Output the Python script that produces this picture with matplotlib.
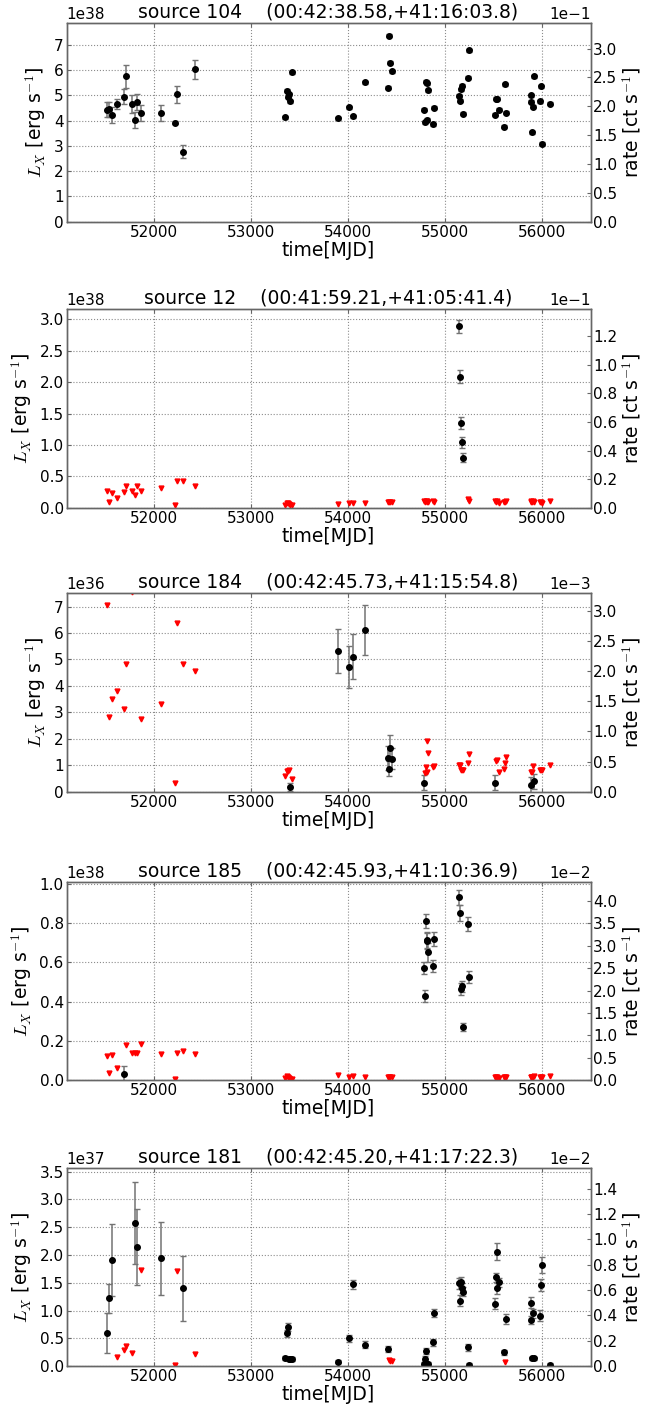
import matplotlib
matplotlib.use("Agg")
import matplotlib.pyplot as plt
from matplotlib.ticker import MaxNLocator

plt.rcParams["font.family"] = "DejaVu Sans"
plt.rcParams["mathtext.fontset"] = "cm"
plt.rcParams["xtick.direction"] = "in"
plt.rcParams["ytick.direction"] = "in"

# count rate -> luminosity conversion [erg per count]
ECF = 2.28e39

# source 104, luminosity in 1e38 erg/s
s104_t = [51516, 51533, 51568, 51616, 51695, 51717, 51778, 51804, 51830, 51869,
          52074, 52214, 52236, 52297, 52427, 53348, 53369, 53378, 53396, 53404,
          53422, 53893, 54010, 54054, 54172, 54412, 54425, 54438, 54451, 54787,
          54791, 54809, 54813, 54820, 54824, 54878, 54887, 55140, 55153, 55167,
          55179, 55184, 55241, 55249, 55515, 55528, 55541, 55554, 55607, 55620,
          55629, 55886, 55890, 55895, 55912, 55917, 55978, 55987, 56000, 56087]
s104_lx = [4.42, 4.44, 4.22, 4.64, 4.94, 5.75, 4.64, 4.02, 4.73, 4.30,
           4.30, 3.92, 5.03, 2.77, 6.02, 4.12, 5.18, 4.93, 5.03, 4.77,
           5.90, 4.09, 4.53, 4.17, 5.52, 5.29, 7.35, 6.29, 5.95, 4.43,
           3.94, 5.53, 4.02, 5.47, 5.20, 3.85, 4.50, 4.97, 4.78, 5.23,
           5.37, 4.27, 5.69, 6.78, 4.22, 4.86, 4.86, 4.42, 3.76, 5.43,
           4.31, 4.99, 4.74, 3.54, 4.55, 5.75, 4.76, 5.35, 3.08, 4.67]
s104_err = [0.30, 0.30, 0.30, 0.20, 0.30, 0.45, 0.35, 0.30, 0.30, 0.30,
            0.30, 0.05, 0.35, 0.25, 0.38] + [0.06] * 45
s104_ul_t = []
s104_ul_lx = []

# source 12, 1e38 erg/s
s12_t = [55140, 55153, 55167, 55179, 55184]
s12_lx = [2.89, 2.09, 1.35, 1.04, 0.80]
s12_err = [0.10, 0.10, 0.09, 0.09, 0.07]
s12_ul_t = [51516, 51533, 51568, 51616, 51695, 51717, 51778, 51804, 51830, 51869,
            52074, 52214, 52236, 52297, 52427, 53348, 53369, 53378, 53396, 53404,
            53422, 53893, 54010, 54054, 54172, 54412, 54425, 54438, 54451, 54787,
            54791, 54809, 54813, 54820, 54824, 54878, 54887, 55241, 55249, 55515,
            55528, 55541, 55554, 55607, 55620, 55629, 55886, 55890, 55895, 55912,
            55917, 55978, 55987, 56000, 56087]
s12_ul_lx = [0.27, 0.09, 0.24, 0.16, 0.25, 0.34, 0.27, 0.21, 0.35, 0.27,
             0.31, 0.04, 0.43, 0.43, 0.35, 0.05, 0.08, 0.07, 0.06, 0.05,
             0.04, 0.06, 0.07, 0.08, 0.07, 0.09, 0.10, 0.09, 0.09, 0.11,
             0.10, 0.11, 0.09, 0.11, 0.10, 0.11, 0.10, 0.14, 0.11, 0.11,
             0.10, 0.11, 0.08, 0.09, 0.10, 0.11, 0.11, 0.09, 0.10, 0.11,
             0.09, 0.09, 0.10, 0.08, 0.11]

# source 184, 1e36 erg/s
s184_t = [53404, 53893, 54010, 54054, 54172, 54412, 54425, 54438, 54451, 54787,
          55515, 55890, 55917]
s184_lx = [0.17, 5.33, 4.71, 5.10, 6.11, 1.28, 0.88, 1.66, 1.25, 0.35,
           0.35, 0.25, 0.39]
s184_err = [0.15, 0.84, 0.80, 0.85, 0.93, 0.45, 0.30, 0.50, 0.40, 0.30,
            0.30, 0.30, 0.30]
s184_ul_t = [51516, 51533, 51568, 51616, 51695, 51717, 51778, 51804, 51830, 51869,
             52074, 52214, 52236, 52297, 52427, 53348, 53369, 53378, 53396, 53422,
             54791, 54809, 54813, 54820, 54824, 54878, 54887, 55140, 55153, 55167,
             55179, 55184, 55241, 55249, 55528, 55541, 55554, 55607, 55620, 55629,
             55886, 55895, 55912, 55978, 55987, 56000, 56087]
s184_ul_lx = [7.05, 2.84, 3.52, 3.80, 3.11, 4.83, 7.56, 8.40, 8.90, 2.74,
              3.33, 0.32, 6.36, 4.81, 4.56, 0.61, 0.80, 0.78, 0.82, 0.49,
              0.72, 0.93, 0.75, 1.92, 1.47, 0.93, 0.98, 1.01, 1.01, 0.81,
              0.81, 0.81, 1.10, 1.44, 1.16, 1.20, 0.75, 0.86, 1.07, 1.33,
              0.75, 0.75, 0.97, 0.81, 0.81, 0.81, 1.00]

# source 185, 1e38 erg/s
s185_t = [51695, 54787, 54791, 54809, 54813, 54820, 54824, 54878, 54887, 55140,
          55153, 55167, 55179, 55184, 55241, 55249]
s185_lx = [0.034, 0.57, 0.43, 0.81, 0.71, 0.715, 0.65, 0.58, 0.72, 0.93,
           0.85, 0.465, 0.477, 0.27, 0.795, 0.525]
s185_err = [0.04, 0.03, 0.03, 0.035, 0.04, 0.04, 0.05, 0.03, 0.035, 0.04,
            0.04, 0.03, 0.03, 0.02, 0.035, 0.03]
s185_ul_t = [51516, 51533, 51568, 51616, 51717, 51778, 51804, 51830, 51869, 52074,
             52214, 52236, 52297, 52427, 53348, 53369, 53378, 53396, 53404, 53422,
             53893, 54010, 54054, 54172, 54412, 54425, 54438, 54451, 55515, 55528,
             55541, 55554, 55607, 55620, 55629, 55886, 55890, 55895, 55912, 55917,
             55978, 55987, 56000, 56087]
s185_ul_lx = [0.124, 0.037, 0.130, 0.063, 0.180, 0.136, 0.136, 0.136, 0.184, 0.135,
              0.007, 0.136, 0.147, 0.133, 0.009, 0.022, 0.014, 0.009, 0.006, 0.006,
              0.024, 0.015, 0.022, 0.015, 0.015, 0.015, 0.015, 0.015, 0.014, 0.014,
              0.014, 0.012, 0.014, 0.014, 0.016, 0.016, 0.017, 0.018, 0.017, 0.019,
              0.018, 0.018, 0.017, 0.022]

# source 181, 1e37 erg/s
s181_t = [51516, 51533, 51568, 51804, 51830, 52074, 52297, 53348, 53369, 53378,
          53396, 53404, 53422, 53893, 54010, 54054, 54172, 54412, 54787, 54791,
          54809, 54813, 54820, 54824, 54878, 54887, 55140, 55153, 55167, 55179,
          55184, 55241, 55249, 55515, 55528, 55536, 55541, 55554, 55607, 55629,
          55886, 55890, 55895, 55912, 55917, 55978, 55987, 56000, 56087]
s181_lx = [0.60, 1.22, 1.91, 2.58, 2.14, 1.94, 1.40, 0.15, 0.59, 0.71,
           0.13, 0.13, 0.13, 0.08, 0.50, 1.47, 0.39, 0.31, 0.04, 0.13,
           0.27, 0.04, 0.03, 0.04, 0.43, 0.96, 1.49, 1.18, 1.52, 1.41,
           1.34, 0.34, 0.03, 1.12, 1.60, 2.06, 1.40, 1.51, 0.25, 0.84,
           0.83, 1.14, 0.14, 0.95, 0.14, 0.91, 1.46, 1.82, 0.03]
s181_err = [0.36, 0.26, 0.65, 0.74, 0.68, 0.66, 0.58, 0.03, 0.07, 0.07,
            0.03, 0.03, 0.03, 0.03, 0.06, 0.08, 0.06, 0.06, 0.03, 0.06,
            0.05, 0.03, 0.03, 0.03, 0.06, 0.07, 0.10, 0.10, 0.09, 0.09,
            0.08, 0.06, 0.02, 0.10, 0.08, 0.15, 0.10, 0.08, 0.05, 0.09,
            0.08, 0.10, 0.03, 0.08, 0.03, 0.10, 0.10, 0.14, 0.02]
s181_ul_t = [51616, 51695, 51717, 51778, 51869, 52214, 52236, 52427, 54425, 54438,
             54451, 55620]
s181_ul_lx = [0.17, 0.29, 0.37, 0.23, 1.73, 0.03, 1.72, 0.22, 0.11, 0.10,
              0.10, 0.08]

panels = [
    ("104", "(00:42:38.58,+41:16:03.8)", 1e38, 7.84,
     s104_t, s104_lx, s104_err, s104_ul_t, s104_ul_lx),
    ("12", "(00:41:59.21,+41:05:41.4)", 1e38, 3.16,
     s12_t, s12_lx, s12_err, s12_ul_t, s12_ul_lx),
    ("184", "(00:42:45.73,+41:15:54.8)", 1e36, 7.50,
     s184_t, s184_lx, s184_err, s184_ul_t, s184_ul_lx),
    ("185", "(00:42:45.93,+41:10:36.9)", 1e38, 1.01,
     s185_t, s185_lx, s185_err, s185_ul_t, s185_ul_lx),
    ("181", "(00:42:45.20,+41:17:22.3)", 1e37, 3.57,
     s181_t, s181_lx, s181_err, s181_ul_t, s181_ul_lx),
]

W, H = 664, 1407
fig = plt.figure(figsize=(W / 100, H / 100), dpi=100)
tops = [23.3, 309.3, 593.3, 881.7, 1167.7]
ax_h = 198.5
left, right = 66.5, 590.5
steps = [1, 2, 2.5, 5, 10]

for top, (name, coords, scale, ymax, t, lx, err, ul_t, ul_lx) in zip(tops, panels):
    ax = fig.add_axes([left / W, 1 - (top + ax_h) / H, (right - left) / W, ax_h / H])
    lx_cgs = [v * scale for v in lx]
    err_cgs = [v * scale for v in err]
    ul_cgs = [v * scale for v in ul_lx]
    ax.errorbar(t, lx_cgs, yerr=err_cgs, fmt="o", color="black", ms=4,
                ecolor="0.45", elinewidth=1.1, capsize=2, capthick=1.0, zorder=3)
    if ul_t:
        ax.plot(ul_t, ul_cgs, "v", color="red", mec="red", ms=3.5, zorder=3)
    ax.set_xlim(51100, 56500)
    ax.set_ylim(0, ymax * scale)
    ax.set_xticks([52000, 53000, 54000, 55000, 56000])
    ax.yaxis.set_major_locator(MaxNLocator(nbins=9, steps=steps))
    ax.ticklabel_format(axis="y", style="sci", scilimits=(0, 0))
    ax.grid(True, linestyle=":", color="0.55", linewidth=0.8)
    ax.set_title(f"source {name}    {coords}", fontsize=13.5, pad=4)
    ax.set_xlabel("time[MJD]", fontsize=13.5, labelpad=1)
    ax.set_ylabel(r"$L_X$ [erg s$^{-1}$]", fontsize=13.5, labelpad=4)
    ax.tick_params(labelsize=11, length=3, color="0.4", top=True, pad=2)
    ax.yaxis.get_offset_text().set_fontsize(11)

    ax2 = ax.twinx()
    ax2.set_ylim(0, ymax * scale / ECF)
    ax2.yaxis.set_major_locator(MaxNLocator(nbins=9, steps=steps))
    ax2.ticklabel_format(axis="y", style="sci", scilimits=(0, 0))
    ax2.set_ylabel(r"rate [ct s$^{-1}$]", fontsize=13.5, labelpad=2)
    ax2.tick_params(labelsize=11, length=3, color="0.4", pad=2)
    ax2.yaxis.get_offset_text().set_fontsize(11)
    for a in (ax, ax2):
        for sp in a.spines.values():
            sp.set_color("0.4")
            sp.set_linewidth(1.0)

fig.savefig("out.png", dpi=100)
